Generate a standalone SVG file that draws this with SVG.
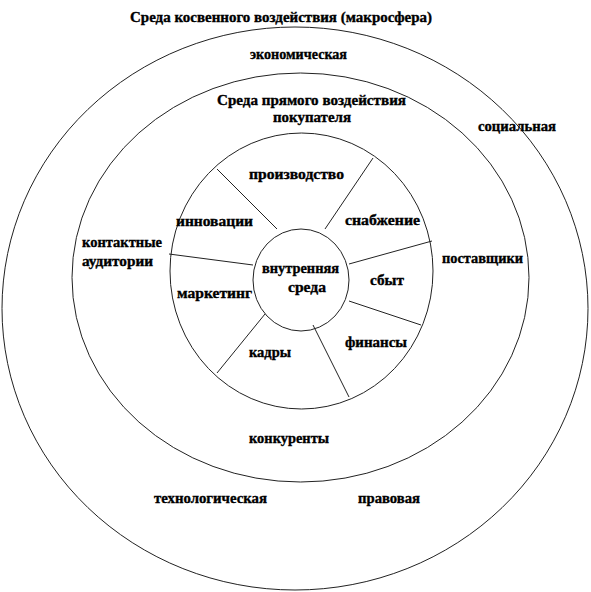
<svg xmlns="http://www.w3.org/2000/svg" width="591" height="592" viewBox="0 0 591 592" font-family="'Liberation Serif', 'DejaVu Serif', serif">
<style>
.ring{fill:none;stroke:#222;stroke-width:1}
.sp{stroke:#222;stroke-width:1}
text{font-family:"Liberation Serif","DejaVu Serif",serif;font-weight:bold;font-size:14px;fill:#000;stroke:#000;stroke-width:0.35}
</style>
<rect width="591" height="592" fill="#fff"/>
<g id="macro">
<ellipse class="ring" cx="295" cy="308.5" rx="293" ry="281.5"/>
<text x="130" y="22" textLength="302" lengthAdjust="spacingAndGlyphs">Среда косвенного воздействия (макросфера)</text>
<text x="250" y="59" textLength="97" lengthAdjust="spacingAndGlyphs">экономическая</text>
<text x="478" y="131" textLength="78" lengthAdjust="spacingAndGlyphs">социальная</text>
<text x="154" y="503" textLength="113" lengthAdjust="spacingAndGlyphs">технологическая</text>
<text x="358" y="503" textLength="62" lengthAdjust="spacingAndGlyphs">правовая</text>
</g>
<g id="micro">
<ellipse class="ring" cx="300.5" cy="277.5" rx="228.5" ry="204.5"/>
<text x="217" y="105" textLength="189" lengthAdjust="spacingAndGlyphs">Среда прямого воздействия</text>
<text x="273" y="122" textLength="78" lengthAdjust="spacingAndGlyphs">покупателя</text>
<text x="82" y="247" textLength="80" lengthAdjust="spacingAndGlyphs">контактные</text>
<text x="82" y="266" textLength="71" lengthAdjust="spacingAndGlyphs">аудитории</text>
<text x="442" y="263" textLength="81" lengthAdjust="spacingAndGlyphs">поставщики</text>
<text x="249" y="443" textLength="80" lengthAdjust="spacingAndGlyphs">конкуренты</text>
</g>
<g id="internal-ring">
<ellipse class="ring" cx="301.5" cy="271" rx="131.5" ry="138"/>
</g>
<g id="connectors">
<line class="sp" x1="217" y1="169" x2="277" y2="229"/>
<line class="sp" x1="373" y1="158" x2="325" y2="229"/>
<line class="sp" x1="432" y1="241" x2="349" y2="264"/>
<line class="sp" x1="169" y1="254" x2="253" y2="265"/>
<line class="sp" x1="349" y1="301" x2="421" y2="325"/>
<line class="sp" x1="313" y1="325" x2="349" y2="397"/>
<line class="sp" x1="265" y1="314" x2="217" y2="373"/>
</g>
<g id="proizvodstvo"><text x="249" y="179" textLength="95" lengthAdjust="spacingAndGlyphs">производство</text></g>
<g id="snabzhenie"><text x="345" y="225" textLength="75" lengthAdjust="spacingAndGlyphs">снабжение</text></g>
<g id="innovacii"><text x="176" y="226" textLength="77" lengthAdjust="spacingAndGlyphs">инновации</text></g>
<g id="sbyt"><text x="370" y="285" textLength="34" lengthAdjust="spacingAndGlyphs">сбыт</text></g>
<g id="marketing"><text x="177" y="298" textLength="75" lengthAdjust="spacingAndGlyphs">маркетинг</text></g>
<g id="finansy"><text x="345" y="347" textLength="62" lengthAdjust="spacingAndGlyphs">финансы</text></g>
<g id="kadry"><text x="249" y="357" textLength="42" lengthAdjust="spacingAndGlyphs">кадры</text></g>
<g id="internal">
<ellipse class="ring" cx="301" cy="280" rx="48" ry="51" fill="#fff"/>
<text x="262" y="273" textLength="77" lengthAdjust="spacingAndGlyphs">внутренняя</text>
<text x="288" y="292" textLength="38" lengthAdjust="spacingAndGlyphs">среда</text>
</g>
</svg>
